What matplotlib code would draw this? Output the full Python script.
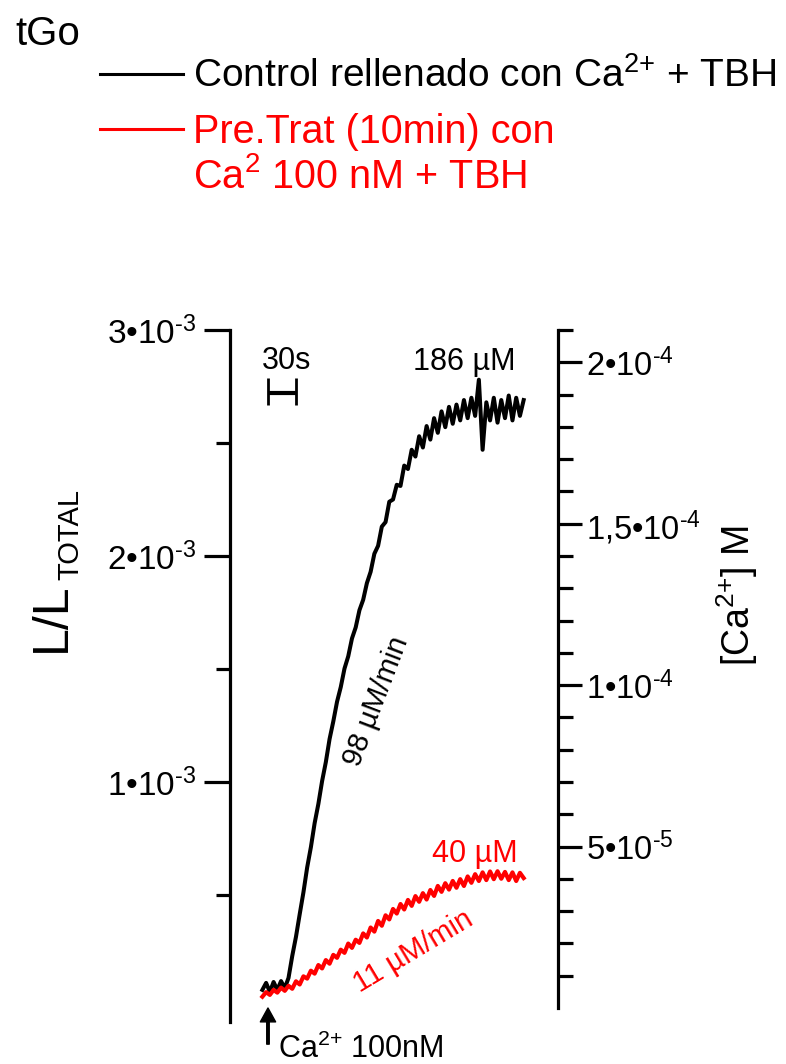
import numpy as np
import matplotlib
matplotlib.use("Agg")
import matplotlib.pyplot as plt
from matplotlib.lines import Line2D
from matplotlib.ticker import FixedLocator, NullFormatter

plt.rcParams['font.family'] = ['Liberation Sans', 'DejaVu Sans']
plt.rcParams['mathtext.fontset'] = 'custom'
plt.rcParams['mathtext.rm'] = 'Liberation Sans'
plt.rcParams['mathtext.it'] = 'Liberation Sans:italic'
plt.rcParams['mathtext.bf'] = 'Liberation Sans:bold'


# Data (time in s after Ca2+ addition, luminescence in units of 1e-3 L/Ltotal)

time_s = [-6, -2, 2, 6, 10, 14, 18, 22, 26, 30, 34, 38, 42, 46, 50, 54, 58,
          62, 66, 70, 74, 78, 82, 86, 90, 94, 98, 102, 106, 110, 114, 118,
          122, 126, 130, 134, 138, 142, 146, 150, 154, 158, 162, 166, 170,
          174, 178, 182, 186, 190, 194, 198, 202, 206, 210, 214, 218, 222,
          226, 230, 234, 238, 242, 246, 250, 254, 258, 262, 266, 270, 274]

control_l = [0.080, 0.111, 0.071, 0.115, 0.080, 0.119, 0.088, 0.133, 0.230,
             0.315, 0.415, 0.512, 0.622, 0.712, 0.818, 0.903, 1.004, 1.088,
             1.190, 1.268, 1.355, 1.420, 1.502, 1.556, 1.635, 1.684, 1.760,
             1.806, 1.880, 1.930, 2.010, 2.045, 2.130, 2.150, 2.240, 2.250,
             2.315, 2.310, 2.400, 2.385, 2.470, 2.440, 2.530, 2.480, 2.575,
             2.515, 2.610, 2.545, 2.640, 2.570, 2.660, 2.585, 2.670, 2.600,
             2.690, 2.610, 2.700, 2.620, 2.780, 2.470, 2.680, 2.600, 2.700,
             2.590, 2.690, 2.610, 2.710, 2.600, 2.700, 2.620, 2.690]

pretrat_l = [0.050, 0.070, 0.058, 0.080, 0.068, 0.090, 0.076, 0.098, 0.085,
             0.118, 0.104, 0.140, 0.130, 0.165, 0.152, 0.190, 0.175, 0.212,
             0.196, 0.235, 0.222, 0.258, 0.244, 0.285, 0.266, 0.302, 0.288,
             0.330, 0.312, 0.356, 0.338, 0.385, 0.364, 0.410, 0.392, 0.438,
             0.418, 0.460, 0.436, 0.478, 0.452, 0.495, 0.470, 0.508, 0.480,
             0.522, 0.496, 0.540, 0.514, 0.552, 0.524, 0.562, 0.532, 0.570,
             0.540, 0.582, 0.554, 0.592, 0.562, 0.600, 0.566, 0.604, 0.570,
             0.605, 0.572, 0.602, 0.566, 0.600, 0.562, 0.598, 0.575]

left_ticks = [1e-3, 2e-3, 3e-3]
left_labels = [r'1•10$^{\text{-3}}$', r'2•10$^{\text{-3}}$', r'3•10$^{\text{-3}}$']
left_minor = [0.5e-3, 1.5e-3, 2.5e-3]

right_ticks = [5e-5, 1e-4, 1.5e-4, 2e-4]
right_labels = [r'5•10$^{\text{-5}}$', r'1•10$^{\text{-4}}$',
                r'1,5•10$^{\text{-4}}$', r'2•10$^{\text{-4}}$']
right_minor = [1e-5, 2e-5, 3e-5, 4e-5, 6e-5, 7e-5, 8e-5, 9e-5, 1.1e-4,
               1.2e-4, 1.3e-4, 1.4e-4, 1.6e-4, 1.7e-4, 1.8e-4, 1.9e-4, 2.1e-4]

RED = '#ff0000'
CA = r'Ca$^{\text{2+}}$'

fig = plt.figure(figsize=(7.86, 10.64), dpi=100)
W, H = 786, 1064


def fx(px):
    return px / W


def fy(py):
    return 1 - py / H


ax = fig.add_axes([fx(230), fy(1022), fx(558) - fx(230), fy(330) - fy(1022)])
ax2 = ax.twinx()

t = np.array(time_s)
ax.plot(t, np.array(control_l) * 1e-3, color='k', lw=2.9, zorder=3)
ax.plot(t, np.array(pretrat_l) * 1e-3, color=RED, lw=3.0, zorder=4)

ax.set_xlim(-40.7, 310.8)
ax.set_ylim(-0.062e-3, 3.0e-3)
ax2.set_ylim(-0.062 / 3.0 * 2.1e-4, 2.1e-4)

for side in ['top', 'right', 'bottom']:
    ax.spines[side].set_visible(False)
for side in ['top', 'left', 'bottom']:
    ax2.spines[side].set_visible(False)
ax.spines['left'].set_linewidth(2.3)
ax2.spines['right'].set_linewidth(2.3)
ax2.spines['right'].set_bounds(0, 2.1e-4)

ax.set_xticks([])
ax.yaxis.set_major_locator(FixedLocator(left_ticks))
ax.set_yticklabels(left_labels)
ax.yaxis.set_minor_locator(FixedLocator(left_minor))
ax.yaxis.set_minor_formatter(NullFormatter())
ax.tick_params(axis='y', which='major', length=19, width=2.3, labelsize=24, pad=5)
ax.tick_params(axis='y', which='minor', length=10, width=2.3)

ax2.yaxis.set_major_locator(FixedLocator(right_ticks))
ax2.set_yticklabels(right_labels)
ax2.yaxis.set_minor_locator(FixedLocator(right_minor))
ax2.yaxis.set_minor_formatter(NullFormatter())
ax2.tick_params(axis='y', which='major', length=17, width=2.3, labelsize=23.5, pad=3)
ax2.tick_params(axis='y', which='minor', length=11, width=2.3)

# axis titles
fig.text(fx(65), fy(652), 'L/L', rotation=90, rotation_mode='anchor',
         ha='left', va='baseline', fontsize=36)
fig.text(fx(78), fy(580), 'TOTAL', rotation=90, rotation_mode='anchor',
         ha='left', va='baseline', fontsize=21)
fig.text(fx(750), fy(596), '[' + CA + '] M', rotation=90,
         rotation_mode='anchor', ha='center', va='baseline', fontsize=27)

# 30 s scale bar
ax.plot([0, 30], [2.721e-3, 2.721e-3], color='k', lw=3, solid_capstyle='butt')
ax.vlines([0, 30], 2.668e-3, 2.788e-3, color='k', lw=2)
ax.text(-6.4, 2.827e-3, '30s', fontsize=22, ha='left', va='baseline')

# annotations
ax.text(155.4, 2.823e-3, '186 µM', fontsize=22, ha='left', va='baseline')
ax.text(175.8, 0.646e-3, '40 µM', fontsize=22, ha='left', va='baseline',
        color=RED)
ax.text(116.0, 1.358e-3, '98 µM/min', fontsize=21, rotation=69,
        rotation_mode='anchor', ha='center', va='center')
ax.text(155.5, 0.252e-3, '11 µM/min', fontsize=21, rotation=31,
        rotation_mode='anchor', ha='center', va='center', color=RED)

ax.annotate('', xy=(0, 0.0), xytext=(0, -0.16e-3),
            arrowprops=dict(width=1.8, headwidth=11, headlength=10,
                            color='k', shrink=0),
            annotation_clip=False)
ax.text(10.7, -0.221e-3, CA + ' 100nM', fontsize=22, ha='left',
        va='baseline', clip_on=False)

# header and legend
fig.text(fx(15), fy(45), 'tGo', fontsize=29, ha='left', va='baseline')
fig.add_artist(Line2D([fx(100), fx(183)], [fy(74), fy(74)], color='k', lw=2.2))
fig.add_artist(Line2D([fx(100), fx(183)], [fy(129), fy(129)], color=RED, lw=2.2))
fig.text(fx(193), fy(87), 'Control rellenado con ' + CA + ' + TBH',
         fontsize=28, ha='left', va='baseline')
fig.text(fx(193), fy(143), 'Pre.Trat (10min) con', fontsize=28.5, ha='left',
         va='baseline', color=RED)
fig.text(fx(193), fy(188), r'Ca$^{\text{2}}$ 100 nM + TBH', fontsize=28.5,
         ha='left', va='baseline', color=RED)

fig.savefig('out.png', dpi=100)
